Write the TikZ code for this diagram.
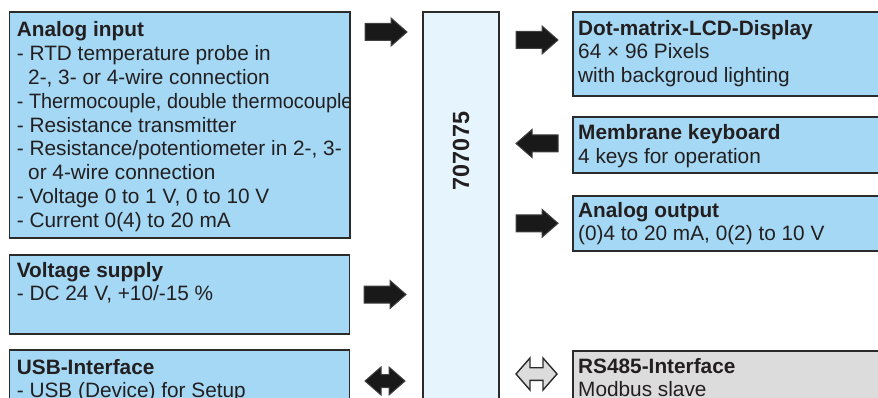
\documentclass[tikz,border=0pt]{standalone}
\usepackage{fontspec}
\setmainfont{Liberation Sans}

\definecolor{boxblue}{HTML}{A4D8F4}
\definecolor{coreblue}{HTML}{E6F4FD}
\definecolor{busgray}{HTML}{DCDCDC}
\definecolor{linegray}{HTML}{2B2B2B}
\definecolor{inkgray}{HTML}{231F20}

\newcommand\boxfont{\fontsize{20.8}{23.8}\selectfont}

\tikzset{
  unit/.style={draw=linegray, line width=1.6pt, inner sep=0pt, outer sep=0pt, anchor=north west},
  txt/.style={anchor=north west, align=left, inner sep=0pt, text=inkgray, font=\boxfont},
  solidarrow/.style={fill=black!90, draw=black!75, line width=1pt},
  hollowarrow/.style={fill=busgray, draw=linegray, line width=1.4pt},
  pics/feed/.style={code={
    \draw[solidarrow] (-21,-8.5) -- (5,-8.5) -- (5,-14) -- (21,0) -- (5,14) -- (5,8.5) -- (-21,8.5) -- cycle;}},
  pics/usblink/.style={code={
    \draw[solidarrow] (-20,0) -- (-4,-14) -- (-4,-6.5) -- (4,-6.5) -- (4,-14) -- (20,0) -- (4,14) -- (4,6.5) -- (-4,6.5) -- (-4,14) -- cycle;}},
  pics/buslink/.style={code={
    \draw[hollowarrow] (-20.5,0) -- (-6.5,-16) -- (-6.5,-6.3) -- (6.5,-6.3) -- (6.5,-16) -- (20.5,0) -- (6.5,16) -- (6.5,6.3) -- (-6.5,6.3) -- (-6.5,16) -- cycle;}},
}

\begin{document}
\begin{tikzpicture}[x=1pt, y=-1pt]
\useasboundingbox (0,0) rectangle (878,398);
\clip (0,0) rectangle (878,398);

% inputs on the left
\node[unit, fill=boxblue, minimum width=340.5pt, minimum height=226pt] (ain) at (9.5,12) {};
\begin{scope}
\clip (ain.north west) rectangle (ain.south east);
\node[txt] (ain-t) at (16.7,20) {\strut\textbf{Analog input}\\
- RTD temperature probe in\\
\hspace*{11.3pt}2-, 3- or 4-wire connection\\
\scalebox{0.955}[1]{- Thermocouple, double thermocouple}\\
- Resistance transmitter\\
- Resistance/potentiometer in 2-, 3-\\
\hspace*{11.3pt}or 4-wire connection\\
- Voltage 0 to 1 V, 0 to 10 V\\
- Current 0(4) to 20 mA};
\end{scope}
\draw[linegray, line width=1.6pt] (ain.north west) rectangle (ain.south east);

\node[unit, fill=boxblue, minimum width=340pt, minimum height=79pt] (vsup) at (9.5,255) {};
\node[txt] (vsup-t) at (16.7,260.3) {\strut\textbf{Voltage supply}\\- DC 24 V, +10/-15 \%};

\node[unit, fill=boxblue, minimum width=340pt, minimum height=80pt] (usb) at (9.5,350) {};
\node[txt] (usb-t) at (16.7,357.3) {\strut\textbf{USB-Interface}\\- USB (Device) for Setup};

% device
\node[unit, fill=coreblue, minimum width=76pt, minimum height=420pt] (core) at (423,12) {};
\node[rotate=90, text=inkgray, font=\bfseries\fontsize{23.4}{28}\selectfont] (core-t) at (461,151) {707075};

% outputs on the right
\node[unit, fill=boxblue, minimum width=330pt, minimum height=84pt] (lcd) at (573,12) {};
\node[txt] (lcd-t) at (578,18.3) {\strut\textbf{Dot-matrix-LCD-Display}\\64 × 96 Pixels\\with backgroud lighting};

\node[unit, fill=boxblue, minimum width=330pt, minimum height=56pt] (keyb) at (573,117) {};
\node[txt] (keyb-t) at (578,122.5) {\strut\textbf{Membrane keyboard}\\4 keys for operation};

\node[unit, fill=boxblue, minimum width=330pt, minimum height=55pt] (aout) at (573,196) {};
\node[txt] (aout-t) at (578,200.2) {\strut\textbf{Analog output}\\(0)4 to 20 mA, 0(2) to 10 V};

\node[unit, fill=busgray, minimum width=330pt, minimum height=80pt] (rs) at (573,351) {};
\node[txt] (rs-t) at (578,356.3) {\strut\textbf{RS485-Interface}\\Modbus slave};

% arrows
\pic (ain-a) at (386,32) {feed};
\pic (vsup-a) at (385,294.5) {feed};
\pic (usb-a) at (385,381) {usblink};
\pic (lcd-a) at (537,40) {feed};
\pic[rotate=180] (keyb-a) at (537,143.5) {feed};
\pic (aout-a) at (537,223.3) {feed};
\pic (rs-a) at (536.5,374) {buslink};
\end{tikzpicture}
\end{document}
